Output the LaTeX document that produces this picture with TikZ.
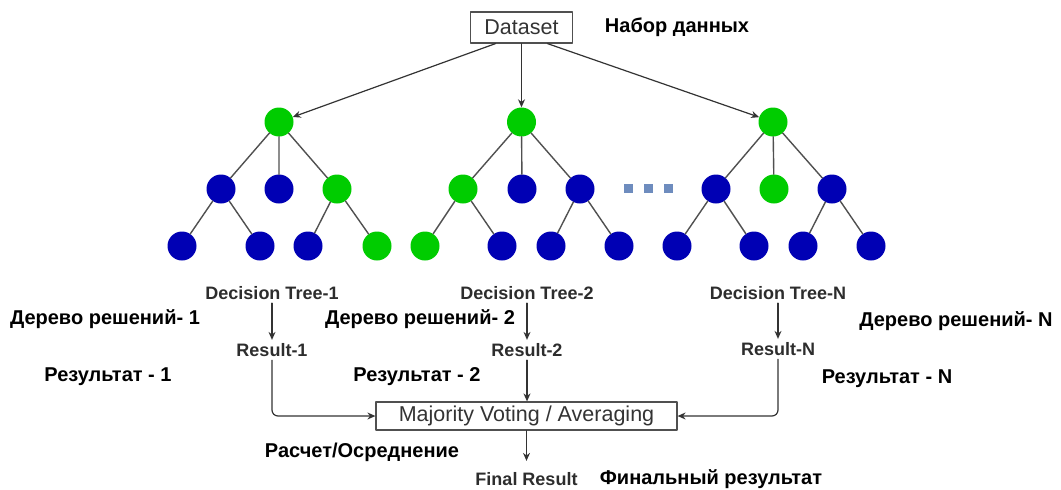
\documentclass[tikz,border=0pt]{standalone}
\usepackage{fontspec}
\setmainfont{Liberation Sans}
\usetikzlibrary{arrows.meta}
\definecolor{leafgreen}{RGB}{0,204,0}
\definecolor{leafblue}{RGB}{0,0,180}
\definecolor{dotblue}{RGB}{110,140,190}
\definecolor{linegray}{RGB}{80,80,80}
\definecolor{labelgray}{RGB}{45,45,45}
\begin{document}
\begin{tikzpicture}[x=1pt, y=-1pt, line join=round, line cap=round, >={Stealth[length=8pt,width=7pt]},
	gn/.style={circle, fill=leafgreen, minimum size=29pt, inner sep=0pt},
	bn/.style={circle, fill=leafblue, minimum size=29pt, inner sep=0pt},
	edge/.style={draw=linegray, line width=1.4pt},
	arr/.style={->, draw=black!80, line width=1.2pt},
	box/.style={draw=linegray, line width=1.2pt, text=black!80, inner sep=0pt, font=\fontsize{21.5}{24}\selectfont},
	en/.style={text=labelgray, font=\fontsize{18}{20}\selectfont\bfseries},
	ru/.style={font=\fontsize{20}{22}\selectfont\bfseries}]
	\useasboundingbox (0,0) rectangle (1061,490);
	% tree 1
	\node[gn] (t1r) at (279,122) {};
	\node[bn] (t1a) at (221,189) {};
	\node[bn] (t1b) at (279,189) {};
	\node[gn] (t1c) at (337,189) {};
	\node[bn] (t1a1) at (182,246) {};
	\node[bn] (t1a2) at (260,246) {};
	\node[bn] (t1c1) at (308,246) {};
	\node[gn] (t1c2) at (377,246) {};
	% tree 2
	\node[gn] (t2r) at (521.5,122) {};
	\node[gn] (t2a) at (463,189) {};
	\node[bn] (t2b) at (522,189) {};
	\node[bn] (t2c) at (580,189) {};
	\node[gn] (t2a1) at (425,246) {};
	\node[bn] (t2a2) at (502,246) {};
	\node[bn] (t2c1) at (551,246) {};
	\node[bn] (t2c2) at (619,246) {};
	% tree N
	\node[gn] (t3r) at (773,122) {};
	\node[bn] (t3a) at (716,189) {};
	\node[gn] (t3b) at (774,189) {};
	\node[bn] (t3c) at (832,189) {};
	\node[bn] (t3a1) at (677,246) {};
	\node[bn] (t3a2) at (754,246) {};
	\node[bn] (t3c1) at (803,246) {};
	\node[bn] (t3c2) at (871,246) {};
	\foreach \t in {t1,t2,t3}
	\draw[edge] (\t r)--(\t a) (\t r)--(\t b) (\t r)--(\t c) (\t a)--(\t a1) (\t a)--(\t a2) (\t c)--(\t c1) (\t c)--(\t c2);
	\foreach \d in {628,648,668}
	\fill[dotblue] (\d-4.5,183.5) rectangle ++(9,9);
	
	\node[box, minimum width=102pt, minimum height=31pt] (ds) at (521.5,27.5) {Dataset};
	\draw[arr] ([xshift=-26pt]ds.south) -- (t1r);
	\draw[arr] (ds) -- (t2r);
	\draw[arr] ([xshift=26pt]ds.south) -- (t3r);
	
	\node[en] (dt1) at (272,293) {Decision Tree-1};
	\node[en] (dt2) at (527,293) {Decision Tree-2};
	\node[en] (dt3) at (778,293) {Decision Tree-N};
	\node[en] (r1) at (272,350) {Result-1};
	\node[en] (r2) at (527,350) {Result-2};
	\node[en] (r3) at (778,349) {Result-N};
	\node[box, minimum width=301pt, minimum height=28pt] (mv) at (526.5,416) {Majority Voting / Averaging};
	\node[en] (fr) at (526.5,479) {Final Result};
	\draw[arr] (dt1) -- (r1);
	\draw[arr] (dt2) -- (r2);
	\draw[arr] (dt3) -- (r3);
	\draw[arr, rounded corners=6pt] (r1) |- (mv);
	\draw[arr] (r2) -- (r2 |- mv.north);
	\draw[arr, rounded corners=6pt] (r3) |- (mv);
	\draw[arr, shorten >=8pt] (mv) -- (fr);
	
	\node[ru] (ds-ru) at (677,27) {Набор данных};
	\node[ru] (dt1-ru) at (105,319) {Дерево решений- 1};
	\node[ru] (r1-ru) at (108,377) {Результат - 1};
	\node[ru] (dt2-ru) at (420,319) {Дерево решений- 2};
	\node[ru] (r2-ru) at (417,377) {Результат - 2};
	\node[ru] (dt3-ru) at (956,321) {Дерево решений- N};
	\node[ru] (r3-ru) at (887,379) {Результат - N};
	\node[ru] (mv-ru) at (362,452) {Расчет/Осреднение};
	\node[ru] (fr-ru) at (711,479) {Финальный результат};
\end{tikzpicture}
\end{document}
